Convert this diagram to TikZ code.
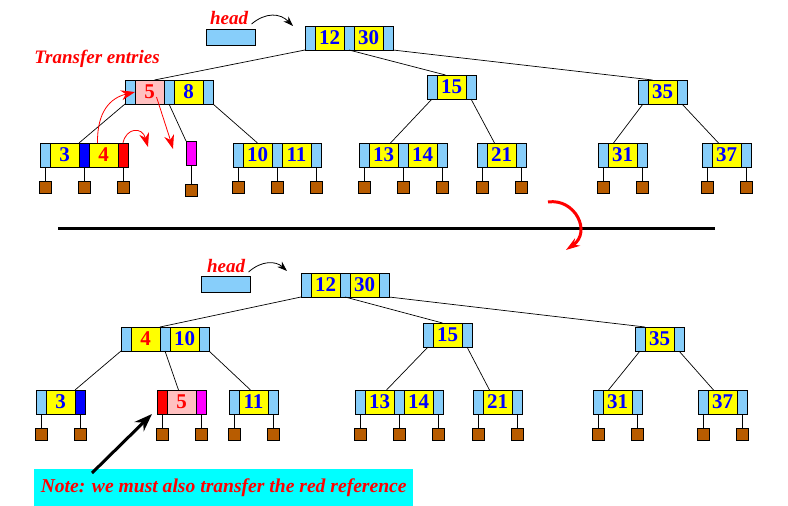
\documentclass[tikz,border=0pt]{standalone}
\usepackage{fontspec}
\setmainfont{Liberation Serif}
\usepackage{tikz}
\usetikzlibrary{positioning}
\usetikzlibrary{arrows.meta}
\tikzset{>=stealth}
\usepackage{xcolor}
\definecolor{lb}{RGB}{135,206,250}
\definecolor{pk}{RGB}{255,192,192}
\definecolor{brn}{RGB}{184,92,0}
\definecolor{yl}{RGB}{255,255,0}
\definecolor{mg}{RGB}{255,0,255}
\definecolor{cy}{RGB}{0,255,255}
\definecolor{bl}{RGB}{0,0,255}
\definecolor{rd}{RGB}{255,0,0}
\tikzset{
  cell/.style={draw, line width=1pt, minimum height=24, inner sep=0pt, outer sep=0pt, text=bl, font=\fontsize{21}{24}\selectfont\bfseries},
  ptr/.style={cell, fill=lb, minimum width=10},
  key/.style={cell, fill=yl, minimum width=29},
  leafsq/.style={draw, line width=1pt, fill=brn, minimum size=12, inner sep=0pt, outer sep=0pt},
  edge/.style={line width=0.7pt},
  stem/.style={line width=1pt},
  redarr/.style={rd, line width=0.8pt, -{Stealth[length=14pt,width=10pt]}},
  lbl/.style={text=rd, font=\fontsize{19}{22}\selectfont\bfseries\itshape},
}

\begin{document}
\begin{tikzpicture}[x=1pt, y=-1pt]
\useasboundingbox (0,0) rectangle (788,506);
% ---- before ----
\node[lbl] (thead) at (229,18) {head};
\node[draw, line width=1pt, fill=lb, minimum width=49, minimum height=16, inner sep=0pt, anchor=north west] (tbox) at (206,29) {};
\node[lbl] (trans) at (97,59) {Transfer entries};
\node[ptr, anchor=north west] (tr1) at (305,26) {};
\node[key, right=0pt of tr1] (tr2) {12};
\node[ptr, right=0pt of tr2] (tr3) {};
\node[key, right=0pt of tr3] (tr4) {30};
\node[ptr, right=0pt of tr4] (tr5) {};
\node[ptr, anchor=north west] (tA1) at (125,80) {};
\node[key, fill=pk, text=rd, right=0pt of tA1] (tA2) {5};
\node[ptr, right=0pt of tA2] (tA3) {};
\node[key, right=0pt of tA3] (tA4) {8};
\node[ptr, right=0pt of tA4] (tA5) {};
\node[ptr, anchor=north west] (t15a) at (427,75) {};
\node[key, right=0pt of t15a] (t15b) {15};
\node[ptr, right=0pt of t15b] (t15c) {};
\node[ptr, anchor=north west] (t35a) at (638,80) {};
\node[key, right=0pt of t35a] (t35b) {35};
\node[ptr, right=0pt of t35b] (t35c) {};
\node[ptr, anchor=north west] (tL1a) at (40,143) {};
\node[key, right=0pt of tL1a] (tL1b) {3};
\node[ptr, fill=bl, right=0pt of tL1b] (tL1c) {};
\node[key, text=rd, right=0pt of tL1c] (tL1d) {4};
\node[ptr, fill=rd, right=0pt of tL1d] (tL1e) {};
\node[ptr, fill=mg, anchor=north west] (tM) at (186,141) {};
\node[ptr, anchor=north west] (tL2a) at (233,143) {};
\node[key, right=0pt of tL2a] (tL2b) {10};
\node[ptr, right=0pt of tL2b] (tL2c) {};
\node[key, right=0pt of tL2c] (tL2d) {11};
\node[ptr, right=0pt of tL2d] (tL2e) {};
\node[ptr, anchor=north west] (tL3a) at (359,143) {};
\node[key, right=0pt of tL3a] (tL3b) {13};
\node[ptr, right=0pt of tL3b] (tL3c) {};
\node[key, right=0pt of tL3c] (tL3d) {14};
\node[ptr, right=0pt of tL3d] (tL3e) {};
\node[ptr, anchor=north west] (tL4a) at (477,143) {};
\node[key, right=0pt of tL4a] (tL4b) {21};
\node[ptr, right=0pt of tL4b] (tL4c) {};
\node[ptr, anchor=north west] (tL5a) at (598,143) {};
\node[key, right=0pt of tL5a] (tL5b) {31};
\node[ptr, right=0pt of tL5b] (tL5c) {};
\node[ptr, anchor=north west] (tL6a) at (702,143) {};
\node[key, right=0pt of tL6a] (tL6b) {37};
\node[ptr, right=0pt of tL6b] (tL6c) {};
\draw[edge] (tr1.south west) -- ([xshift=5]tA2.north);
\draw[edge] (tr3.south) -- ([xshift=-6]t15b.north);
\draw[edge] (tr5.south east) -- ([xshift=-10]t35b.north);
\draw[edge] (tA1.south west) -- (tL1b.north east);
\draw[edge] (tA3.south) -- (tM.north west);
\draw[edge] (tA5.south east) -- (tL2b.north);
\draw[edge] (t15a.south) -- ([xshift=7]tL3b.north);
\draw[edge] (t15c.south) -- ([xshift=-7]tL4b.north);
\draw[edge] (t35a.south) -- ([xshift=-9]tL5b.north);
\draw[edge] (t35c.south) -- ([xshift=-8]tL6b.north);
\node[leafsq, below=19pt of tM] (qtM) {};
\draw[stem] (tM.south) -- (qtM.north);
\draw[-{Stealth[length=10pt,width=7pt]}, line width=0.8pt] ([yshift=-6]thead.east) .. controls (266,12) and (280,13) .. ([xshift=-12]tr1.north west);
% transfer arrows
\coordinate (tq) at (148,147);
\coordinate (tp) at (173,149);
\draw[redarr] ([xshift=-6]tL1d.north) .. controls (97,112) and (110,98) .. (tA1.east);
\draw[redarr] (tL1e.north) .. controls (126,128) and (142,126) .. (tq);
\draw[redarr] ([xshift=7,yshift=-5]tA2.center) .. controls (164,118) .. (tp);
% ---- separator ----
\draw[line width=3pt] (58,228) -- (715,228);
\coordinate (ra) at (548,202);
\coordinate (rb) at (566,250);
\draw[rd, line width=3pt, -{Stealth[length=14pt,width=9pt]}] (ra) .. controls (575,198) and (592,232) .. (rb);
% ---- after ----
\node[lbl] (bhead) at (226,266) {head};
\node[draw, line width=1pt, fill=lb, minimum width=49, minimum height=16, inner sep=0pt, anchor=north west] (bbox) at (201,276) {};
\node[ptr, anchor=north west] (br1) at (301,273) {};
\node[key, right=0pt of br1] (br2) {12};
\node[ptr, right=0pt of br2] (br3) {};
\node[key, right=0pt of br3] (br4) {30};
\node[ptr, right=0pt of br4] (br5) {};
\node[ptr, anchor=north west] (bA1) at (121,327) {};
\node[key, text=rd, right=0pt of bA1] (bA2) {4};
\node[ptr, right=0pt of bA2] (bA3) {};
\node[key, right=0pt of bA3] (bA4) {10};
\node[ptr, right=0pt of bA4] (bA5) {};
\node[ptr, anchor=north west] (b15a) at (423,323) {};
\node[key, right=0pt of b15a] (b15b) {15};
\node[ptr, right=0pt of b15b] (b15c) {};
\node[ptr, anchor=north west] (b35a) at (635,327) {};
\node[key, right=0pt of b35a] (b35b) {35};
\node[ptr, right=0pt of b35b] (b35c) {};
\node[ptr, anchor=north west] (bL1a) at (36,390) {};
\node[key, right=0pt of bL1a] (bL1b) {3};
\node[ptr, fill=bl, right=0pt of bL1b] (bL1c) {};
\node[ptr, fill=rd, anchor=north west] (bL2a) at (157,390) {};
\node[key, fill=pk, text=rd, right=0pt of bL2a] (bL2b) {5};
\node[ptr, fill=mg, right=0pt of bL2b] (bL2c) {};
\node[ptr, anchor=north west] (bL3a) at (229,390) {};
\node[key, right=0pt of bL3a] (bL3b) {11};
\node[ptr, right=0pt of bL3b] (bL3c) {};
\node[ptr, anchor=north west] (bL4a) at (355,390) {};
\node[key, right=0pt of bL4a] (bL4b) {13};
\node[ptr, right=0pt of bL4b] (bL4c) {};
\node[key, right=0pt of bL4c] (bL4d) {14};
\node[ptr, right=0pt of bL4d] (bL4e) {};
\node[ptr, anchor=north west] (bL5a) at (473,390) {};
\node[key, right=0pt of bL5a] (bL5b) {21};
\node[ptr, right=0pt of bL5b] (bL5c) {};
\node[ptr, anchor=north west] (bL6a) at (593,390) {};
\node[key, right=0pt of bL6a] (bL6b) {31};
\node[ptr, right=0pt of bL6b] (bL6c) {};
\node[ptr, anchor=north west] (bL7a) at (698,390) {};
\node[key, right=0pt of bL7a] (bL7b) {37};
\node[ptr, right=0pt of bL7b] (bL7c) {};
\draw[edge] (br1.south west) -- (bA2.north east);
\draw[edge] (br3.south) -- ([xshift=-5]b15b.north);
\draw[edge] (br5.south east) -- (b35b.north west);
\draw[edge] (bA1.south west) -- (bL1b.north east);
\draw[edge] (bA3.south) -- ([xshift=-3]bL2b.north);
\draw[edge] (bA5.south east) -- ([xshift=-3]bL3b.north);
\draw[edge] (b15a.south) -- ([xshift=7]bL4b.north);
\draw[edge] (b15c.south) -- ([xshift=-8]bL5b.north);
\draw[edge] (b35a.south) -- ([xshift=-9]bL6b.north);
\draw[edge] (b35c.south) -- ([xshift=-9]bL7b.north);
\draw[-{Stealth[length=10pt,width=7pt]}, line width=0.8pt] ([yshift=-6]bhead.east) .. controls (262,260) and (276,261) .. ([xshift=-14,yshift=2]br1.north west);
% child squares
\foreach \c in {tL1a,tL1c,tL1e,tL2a,tL2c,tL2e,tL3a,tL3c,tL3e,tL4a,tL4c,tL5a,tL5c,tL6a,tL6c,
  bL1a,bL1c,bL2a,bL2c,bL3a,bL3c,bL4a,bL4c,bL4e,bL5a,bL5c,bL6a,bL6c,bL7a,bL7c}{
  \node[leafsq, below=14pt of \c] (q\c) {};
  \draw[stem] (\c.south) -- (q\c.north);
}
% note
\node[lbl, font=\fontsize{19.6}{22}\selectfont\bfseries\itshape, fill=cy, minimum width=379, minimum height=37, inner sep=0pt, anchor=north west] (note) at (34,469) {Note: we must also transfer the red reference};
\draw[line width=3pt, -{Stealth[length=18pt,width=13pt]}] ([xshift=58,yshift=-4]note.north west) -- ([xshift=-5]bL2a.south west);
\end{tikzpicture}
\end{document}
